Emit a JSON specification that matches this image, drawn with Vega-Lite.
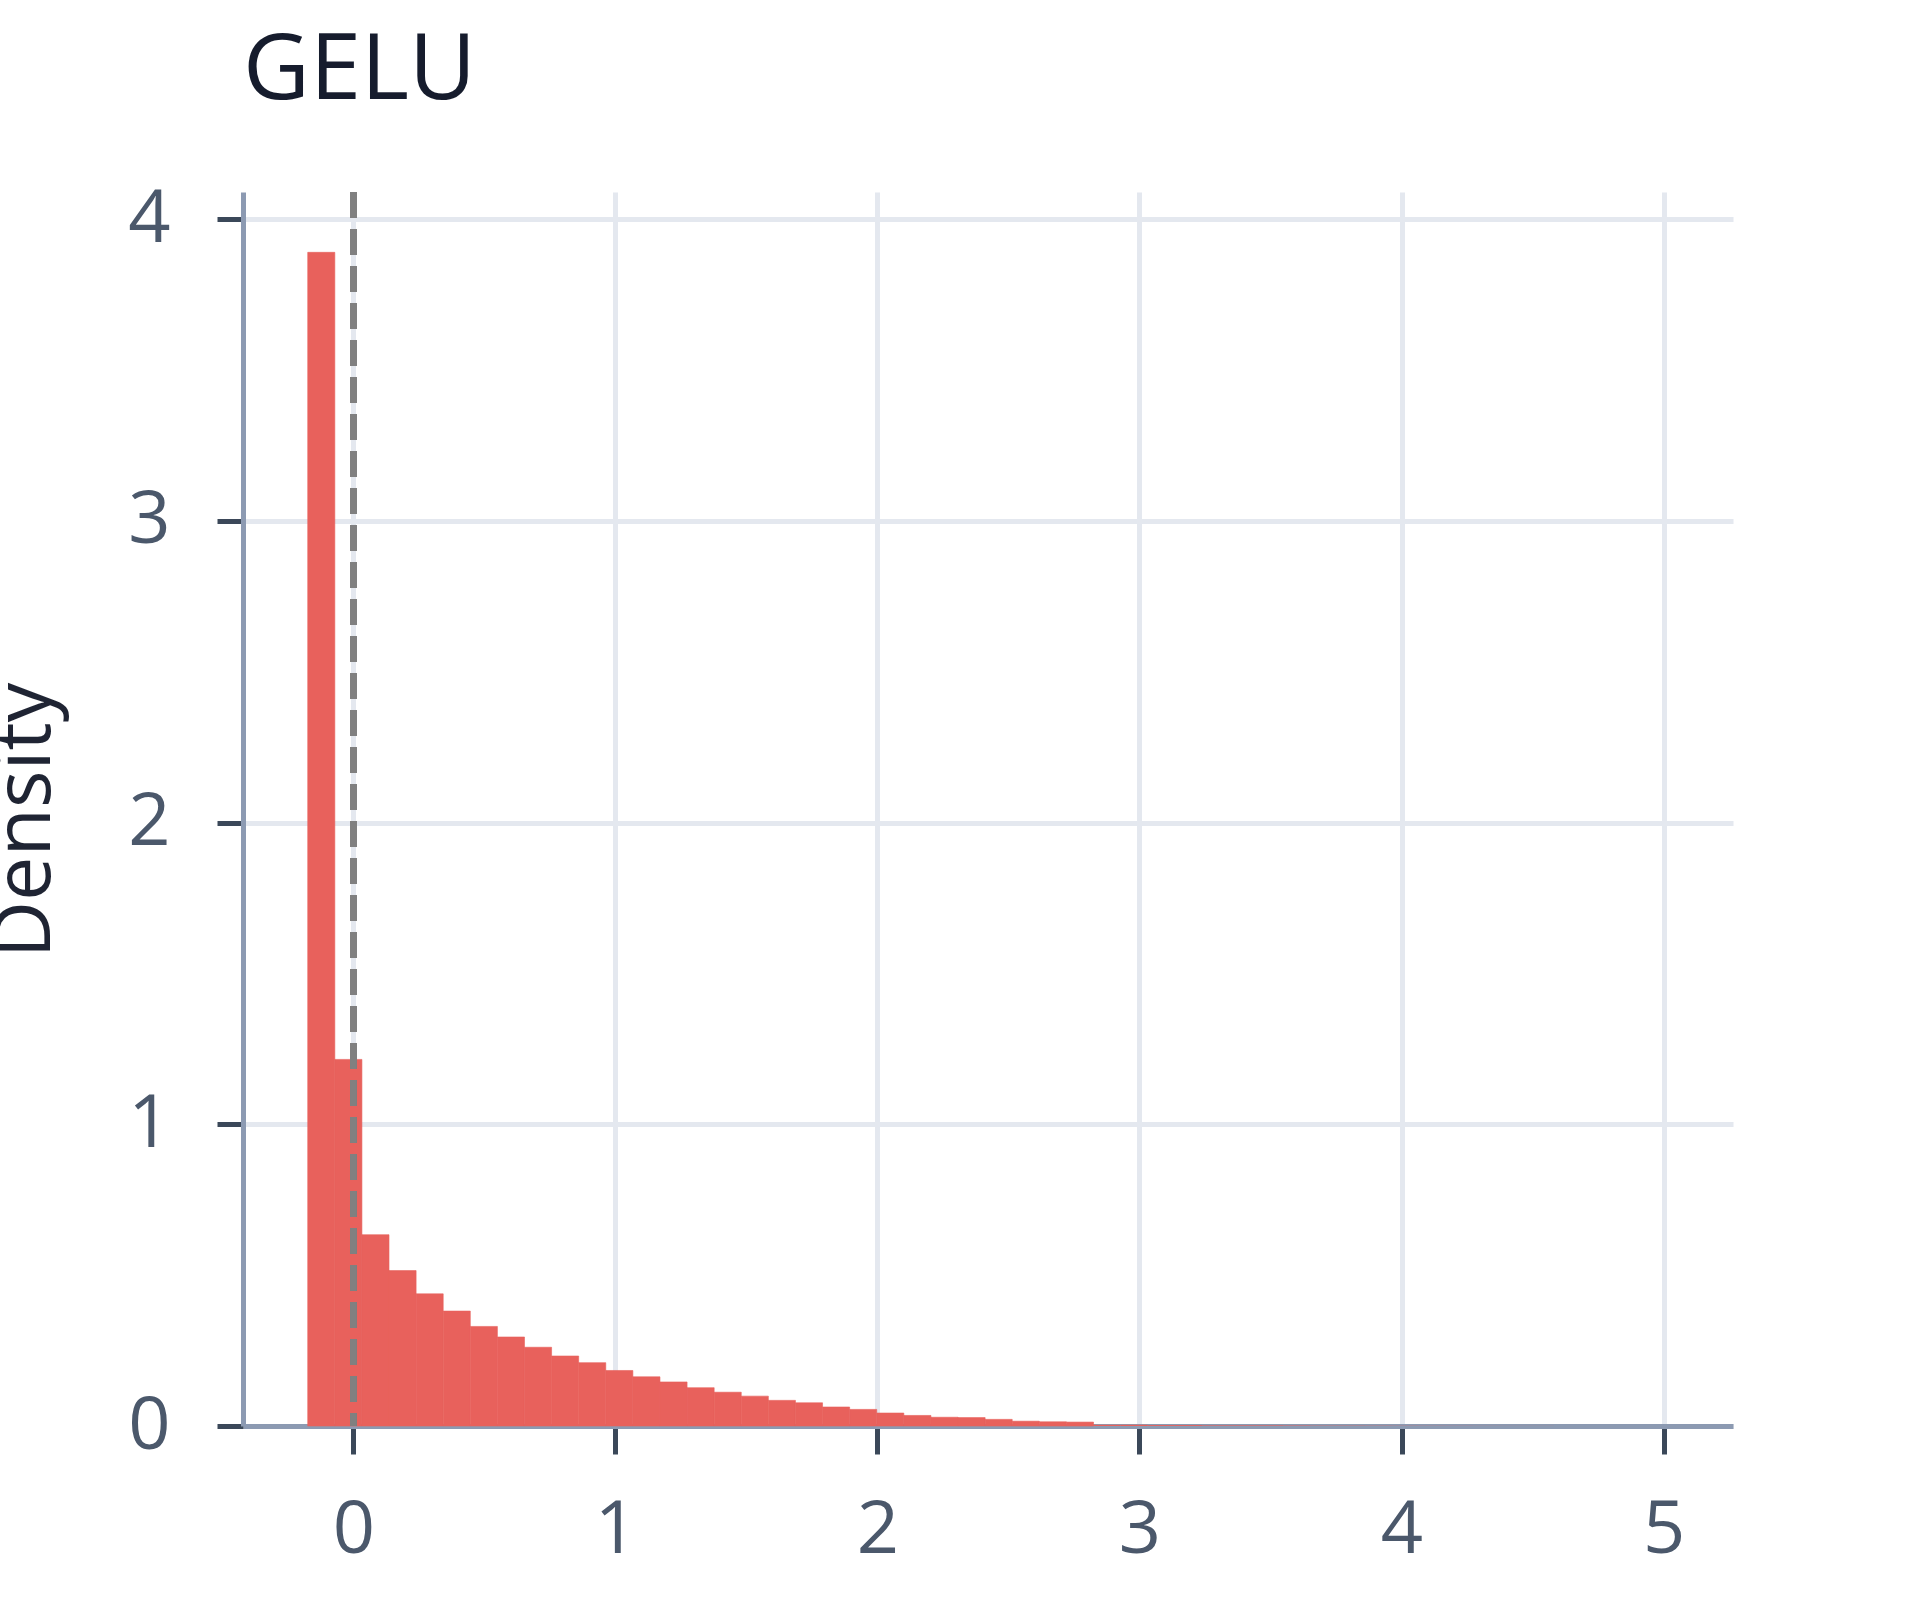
{
  "$schema": "https://vega.github.io/schema/vega-lite/v6.json",
  "width": 1490,
  "height": 1234,
  "autosize": {"type": "none"},
  "padding": {"left": 243, "top": 192, "right": 187, "bottom": 174},
  "background": "white",
  "title": {
    "text": "GELU",
    "anchor": "start",
    "frame": "group",
    "font": "Open Sans",
    "fontSize": 92,
    "fontWeight": "normal",
    "color": "#161c2d",
    "baseline": "alphabetic",
    "offset": -9
  },
  "data": {
    "values": [
      {"bin_start": -0.174, "bin_end": -0.0706, "density": 3.89},
      {"bin_start": -0.0706, "bin_end": 0.0328, "density": 1.215},
      {"bin_start": 0.0328, "bin_end": 0.1362, "density": 0.634},
      {"bin_start": 0.1362, "bin_end": 0.2396, "density": 0.515},
      {"bin_start": 0.2396, "bin_end": 0.343, "density": 0.438},
      {"bin_start": 0.343, "bin_end": 0.4464, "density": 0.381},
      {"bin_start": 0.4464, "bin_end": 0.5498, "density": 0.33},
      {"bin_start": 0.5498, "bin_end": 0.6532, "density": 0.295},
      {"bin_start": 0.6532, "bin_end": 0.7566, "density": 0.261},
      {"bin_start": 0.7566, "bin_end": 0.86, "density": 0.232},
      {"bin_start": 0.86, "bin_end": 0.9634, "density": 0.21},
      {"bin_start": 0.9634, "bin_end": 1.0668, "density": 0.184},
      {"bin_start": 1.0668, "bin_end": 1.1702, "density": 0.163},
      {"bin_start": 1.1702, "bin_end": 1.2736, "density": 0.146},
      {"bin_start": 1.2736, "bin_end": 1.377, "density": 0.127},
      {"bin_start": 1.377, "bin_end": 1.4804, "density": 0.112},
      {"bin_start": 1.4804, "bin_end": 1.5838, "density": 0.099},
      {"bin_start": 1.5838, "bin_end": 1.6872, "density": 0.085},
      {"bin_start": 1.6872, "bin_end": 1.7906, "density": 0.077},
      {"bin_start": 1.7906, "bin_end": 1.894, "density": 0.063},
      {"bin_start": 1.894, "bin_end": 1.9974, "density": 0.055},
      {"bin_start": 1.9974, "bin_end": 2.1008, "density": 0.043},
      {"bin_start": 2.1008, "bin_end": 2.2042, "density": 0.035},
      {"bin_start": 2.2042, "bin_end": 2.3076, "density": 0.029},
      {"bin_start": 2.3076, "bin_end": 2.411, "density": 0.028},
      {"bin_start": 2.411, "bin_end": 2.5144, "density": 0.022},
      {"bin_start": 2.5144, "bin_end": 2.6178, "density": 0.016},
      {"bin_start": 2.6178, "bin_end": 2.7212, "density": 0.014},
      {"bin_start": 2.7212, "bin_end": 2.8246, "density": 0.013},
      {"bin_start": 2.8246, "bin_end": 2.928, "density": 0.004},
      {"bin_start": 2.928, "bin_end": 3.0314, "density": 0.004},
      {"bin_start": 3.0314, "bin_end": 3.1348, "density": 0.003},
      {"bin_start": 3.1348, "bin_end": 3.2382, "density": 0.003},
      {"bin_start": 3.2382, "bin_end": 3.3416, "density": 0.002},
      {"bin_start": 3.3416, "bin_end": 3.445, "density": 0.002},
      {"bin_start": 3.445, "bin_end": 3.5484, "density": 0.002},
      {"bin_start": 3.5484, "bin_end": 3.6518, "density": 0.0015},
      {"bin_start": 3.6518, "bin_end": 3.7552, "density": 0.001},
      {"bin_start": 3.7552, "bin_end": 3.8586, "density": 0.001},
      {"bin_start": 3.8586, "bin_end": 3.962, "density": 0.0008},
      {"bin_start": 3.962, "bin_end": 4.0654, "density": 0.0006},
      {"bin_start": 4.0654, "bin_end": 4.1688, "density": 0.0005},
      {"bin_start": 4.1688, "bin_end": 4.2722, "density": 0.0004},
      {"bin_start": 4.2722, "bin_end": 4.3756, "density": 0.0003},
      {"bin_start": 4.3756, "bin_end": 4.479, "density": 0.0002},
      {"bin_start": 4.479, "bin_end": 4.5824, "density": 0.0002},
      {"bin_start": 4.5824, "bin_end": 4.6858, "density": 0.0001},
      {"bin_start": 4.6858, "bin_end": 4.7892, "density": 0.0001},
      {"bin_start": 4.7892, "bin_end": 4.8926, "density": 0.0001},
      {"bin_start": 4.8926, "bin_end": 4.996, "density": 0.0001}
    ]
  },
  "layer": [
    {
      "mark": {"type": "rect", "color": "#e8615c", "stroke": "#e8615c"},
      "encoding": {
        "x": {
          "field": "bin_start",
          "type": "quantitative",
          "scale": {"domain": [-0.421, 5.265], "nice": false, "zero": false},
          "axis": {
            "values": [0, 1, 2, 3, 4, 5],
            "format": "d",
            "title": null,
            "tickSize": 28,
            "labelPadding": 40
          }
        },
        "x2": {"field": "bin_end"},
        "y": {
          "field": "density",
          "type": "quantitative",
          "scale": {"domain": [0, 4.09], "nice": false},
          "axis": {
            "values": [0, 1, 2, 3, 4],
            "format": "d",
            "title": "Density",
            "tickSize": 26,
            "labelPadding": 47,
            "titleX": -194,
            "titleY": 628,
            "titleAngle": -90,
            "titleAlign": "center",
            "titleBaseline": "alphabetic"
          }
        },
        "y2": {"datum": 0},
        "strokeWidth": {
          "condition": {"test": "datum.density > 0.005", "value": 0.6},
          "value": 0
        }
      }
    },
    {
      "mark": {"type": "rule", "color": "#808080", "strokeWidth": 6, "strokeDash": [26, 11]},
      "encoding": {"x": {"datum": 0}}
    }
  ],
  "config": {
    "view": {"stroke": null},
    "axis": {
      "grid": true,
      "gridColor": "#e4e8ef",
      "gridWidth": 5,
      "domainColor": "#8c9ab2",
      "domainWidth": 5,
      "tickColor": "#3b4859",
      "tickWidth": 5,
      "labelFont": "Open Sans",
      "labelFontSize": 74,
      "labelColor": "#4b586b",
      "labelFlush": false,
      "labelOverlap": false,
      "titleFont": "Open Sans",
      "titleFontSize": 79,
      "titleFontWeight": "normal",
      "titleColor": "#1f2433"
    }
  }
}
